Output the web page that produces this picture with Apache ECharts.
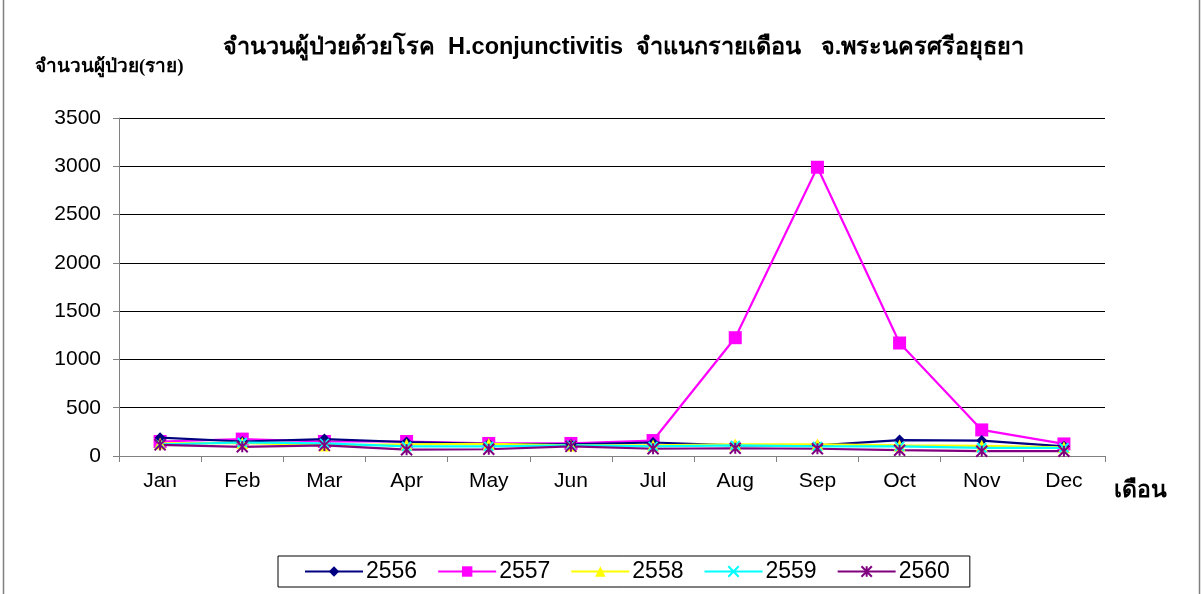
<!DOCTYPE html>
<head>
    <meta charset="utf-8">
    <title>ECharts</title>
</head>
<body style="margin:0">

<div id="main" style="height:594px;width:1201px"></div>
<script src="https://cdn.jsdelivr.net/npm/echarts@6/dist/echarts.min.js"></script>

<script type="text/javascript">
// data (จำนวนผู้ป่วย, ราย)
var months = ['Jan', 'Feb', 'Mar', 'Apr', 'May', 'Jun', 'Jul', 'Aug', 'Sep', 'Oct', 'Nov', 'Dec'];
var years = ['2556', '2557', '2558', '2559', '2560'];
var y2556 = [190, 150, 175, 145, 125, 120, 140, 110, 110, 165, 160, 100];
var y2557 = [150, 175, 150, 150, 130, 130, 160, 1225, 2990, 1170, 270, 125];
var y2558 = [130, 135, 110, 120, 125, 110, 110, 120, 120, 110, 105, 90];
var y2559 = [120, 140, 130, 100, 100, 110, 100, 110, 100, 100, 85, 85];
var y2560 = [115, 95, 110, 65, 70, 100, 75, 80, 75, 60, 50, 50];
var yTicks = [0, 500, 1000, 1500, 2000, 2500, 3000, 3500];

var colors = ['#000080', '#ff00ff', '#ffff00', '#00ffff', '#800080'];
var symbols = [
    'diamond',
    'rect',
    'triangle',
    'path://M0,0L10,10M10,0L0,10',
    'path://M0,0L10,10M10,0L0,10M5,0L5,10'
];
var sizes = [11, 13, 12, 9, 11];
var allData = [y2556, y2557, y2558, y2559, y2560];

var myChart = echarts.init(document.getElementById('main'));

var series = [];
for (var i = 0; i < years.length; i++) {
    series.push({
        name: years[i],
        type: 'line',
        data: allData[i],
        symbol: symbols[i],
        symbolSize: sizes[i],
        showAllSymbol: true,
        lineStyle: { color: colors[i], width: 2.2 },
        itemStyle: { color: colors[i], borderColor: colors[i], borderWidth: i >= 3 ? 2 : 0 },
        emphasis: { disabled: true },
        z: 2 + (i === 1 ? 0 : 1)
    });
}

var option = {
    animation: false,
    backgroundColor: '#fff',
    textStyle: { fontFamily: 'Liberation Sans, Arial, sans-serif' },
    title: {
        text: 'จำนวนผู้ป่วยด้วยโรค  H.conjunctivitis  จำแนกรายเดือน   จ.พระนครศรีอยุธยา',
        left: 218,
        top: 31,
        textStyle: { fontSize: 23.5, fontWeight: 'bold', color: '#000' }
    },
    legend: {
        data: years,
        left: 278,
        top: 556,
        padding: [4, 20, 4, 26],
        itemGap: 20,
        itemWidth: 58,
        itemHeight: 13,
        borderColor: '#000',
        borderWidth: 1,
        textStyle: { fontSize: 23, color: '#000', padding: [0, 0, 0, -2] }
    },
    grid: { left: 119, right: 96, top: 118, bottom: 138 },
    xAxis: {
        type: 'category',
        data: months,
        boundaryGap: true,
        axisLine: { lineStyle: { color: '#808080', width: 1 } },
        axisTick: { show: true, length: 6, interval: 0, lineStyle: { color: '#808080' } },
        axisLabel: { fontSize: 21, color: '#000', margin: 15 }
    },
    yAxis: {
        type: 'value',
        min: yTicks[0],
        max: yTicks[yTicks.length - 1],
        interval: 500,
        axisLine: { show: true, lineStyle: { color: '#808080', width: 1 } },
        axisTick: { show: true, length: 6, lineStyle: { color: '#808080' } },
        axisLabel: { fontSize: 21, color: '#000', margin: 18, formatter: function (v) { return String(v); } },
        splitLine: { lineStyle: { color: '#000', width: 1 } }
    },
    graphic: [
        {
            type: 'rect',
            left: 1, top: -5,
            shape: { width: 1196, height: 610 },
            style: { fill: 'none', stroke: '#808080', lineWidth: 1.5 },
            silent: true
        },
        {
            type: 'text',
            left: 35, top: 58,
            style: { text: 'จำนวนผู้ป่วย(ราย)', font: 'bold 19px "Liberation Serif", serif', fill: '#000' }
        },
        {
            type: 'text',
            left: 1114, top: 480,
            style: { text: 'เดือน', font: 'bold 23px "Liberation Serif", serif', fill: '#000' }
        }
    ],
    series: series
};

myChart.setOption(option);
</script>
</body>
